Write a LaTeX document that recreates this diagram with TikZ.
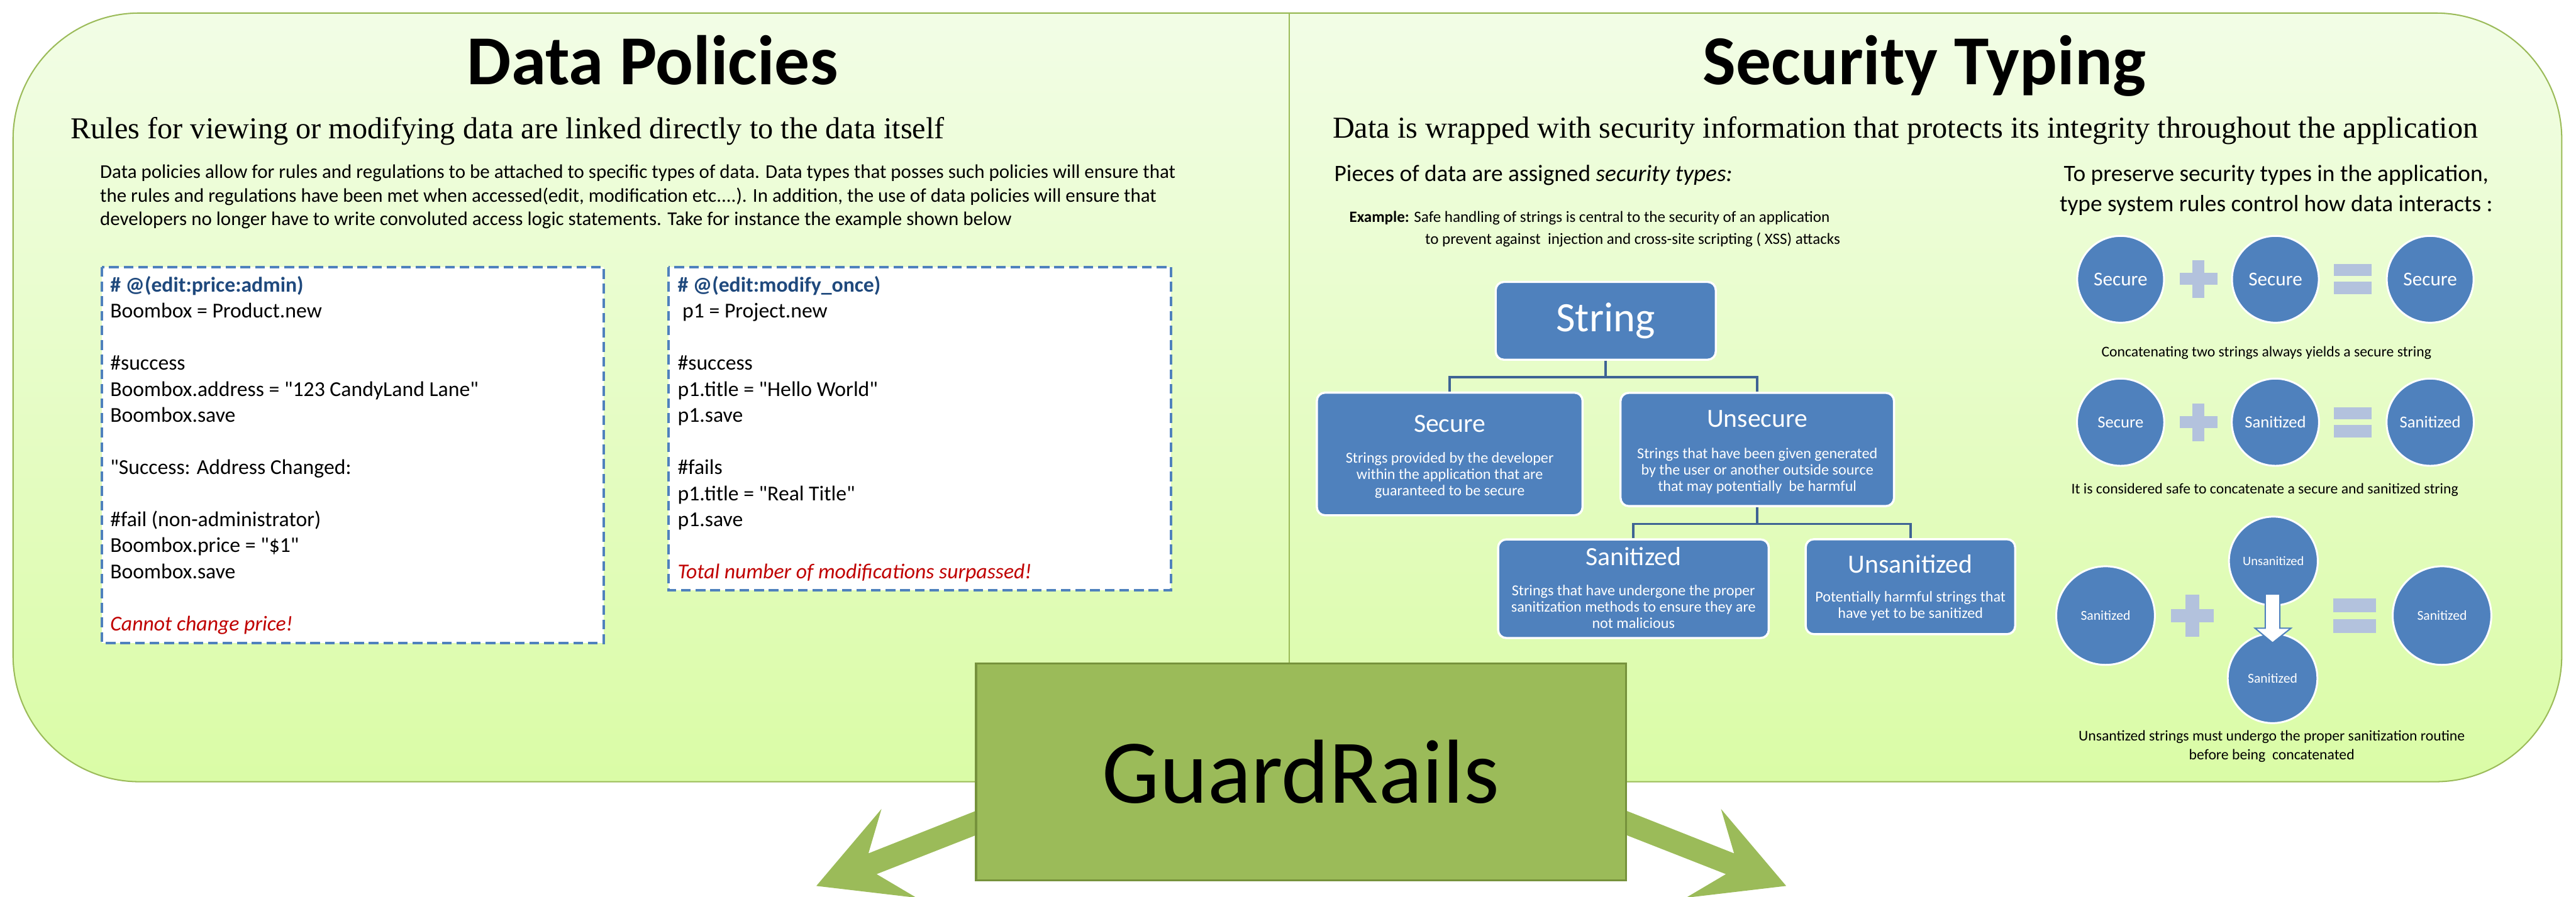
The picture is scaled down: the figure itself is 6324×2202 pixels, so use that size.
\documentclass[tikz,border=0pt]{standalone}
\usepackage{fontspec}
\setmainfont{Carlito}[Ligatures=TeXOff]
\newfontfamily\timesfont{Liberation Serif}
\usetikzlibrary{calc}

\definecolor{panelline}{RGB}{155,187,89}
\definecolor{paneltop}{RGB}{242,253,230}
\definecolor{panelbot}{RGB}{218,252,166}
\definecolor{railgreen}{RGB}{155,187,89}
\definecolor{raildark}{RGB}{118,146,60}
\definecolor{typeblue}{RGB}{79,129,189}
\definecolor{treeline}{RGB}{62,99,148}
\definecolor{opblue}{RGB}{179,194,221}
\definecolor{codeblue}{RGB}{31,73,125}
\definecolor{failred}{RGB}{192,0,0}

% stacked lines, baseline at the first line
\newcommand{\linesleft}[2]{\vtop{\baselineskip=#1\relax\lineskiplimit=-\maxdimen\halign{##\hfil\cr#2\crcr}}}
\newcommand{\linescentre}[2]{\vtop{\baselineskip=#1\relax\lineskiplimit=-\maxdimen\halign{\hfil##\hfil\cr#2\crcr}}}

% plus and equals signs: (centre)[size]
\def\plussign(#1,#2)[#3]{\fill[opblue] ({#1-#3/2},{#2-0.16*#3}) rectangle ({#1+#3/2},{#2+0.16*#3});
  \fill[opblue] ({#1-0.16*#3},{#2-#3/2}) rectangle ({#1+0.16*#3},{#2+#3/2});}
\def\equalsign(#1,#2)[#3]{\fill[opblue] ({#1-#3/2},{#2-0.40*#3}) rectangle ({#1+#3/2},{#2-0.08*#3});
  \fill[opblue] ({#1-#3/2},{#2+0.08*#3}) rectangle ({#1+#3/2},{#2+0.40*#3});}

\tikzset{
  panel/.style={draw=panelline, line width=0.9pt, rounded corners=3.1cm, top color=paneltop, bottom color=panelbot},
  titletext/.style={inner sep=0, font=\fontsize{49}{59}\selectfont\bfseries},
  subtext/.style={inner sep=0, font=\timesfont\fontsize{21.2}{25}\selectfont},
  bodytext/.style={inner sep=0, font=\fontsize{13.6}{16.4}\selectfont},
  codebox/.style={draw=typeblue, fill=white, line width=1.7pt, dash pattern=on 6.8pt off 3.4pt},
  codetext/.style={inner sep=0, font=\fontsize{14.8}{18.2}\selectfont},
  headtext/.style={inner sep=0, font=\fontsize{16.4}{20}\selectfont},
  smalltext/.style={inner sep=0, font=\fontsize{11}{13}\selectfont},
  ruletext/.style={inner sep=0, font=\fontsize{10.4}{13}\selectfont},
  typebox/.style={draw=white, fill=typeblue, line width=1.5pt, rounded corners=0.2cm},
  typetitle/.style={inner sep=0, text=white, font=\fontsize{18.3}{22}\selectfont},
  typedesc/.style={inner sep=0, text=white, font=\fontsize{10.6}{11.4}\selectfont},
  treelink/.style={draw=treeline, line width=1.6pt},
  typecircle/.style={circle, draw=white, fill=typeblue, line width=1.3pt, inner sep=0, text=white},
  sanarrow/.style={draw=typeblue, fill=white, line width=0.9pt},
  railbox/.style={draw=raildark, fill=railgreen, line width=1.5pt, inner sep=0, font=\fontsize{63.5}{70}\selectfont}
}

\begin{document}
\begin{tikzpicture}[x=0.01cm, y=-0.01cm]
  \useasboundingbox (0,0) rectangle (6324,2202);

  %%%%% PANEL %%%%%
  \draw[panel] (32,32) rectangle (6289,1920);
  \draw[panelline, line width=0.9pt] (3165,32) -- (3165,1920);

  %%%%% DATA POLICIES %%%%%
  \node[titletext, anchor=base] (dptitle) at (1602,207) {Data Policies};
  \node[subtext, anchor=base west] (dpsub) at (173,341) {Rules for viewing or modifying data are linked directly to the data itself};
  \node[bodytext, anchor=base west] (dpbody) at (245,438) {\linesleft{16.4pt}{%
    Data policies allow for rules and regulations to be attached to specific types of data. Data types that posses such policies will ensure that\cr
    the rules and regulations have been met when accessed(edit, modification etc....). In addition, the use of data policies will ensure that\cr
    developers no longer have to write convoluted access logic statements. Take for instance the example shown below}};

  \draw[codebox] (250,656) rectangle (1482,1579);
  \node[codetext, anchor=base west] (pricecode) at (270,717) {\linesleft{18.2pt}{%
    {\bfseries\color{codeblue}\# @(edit:price:admin)}\cr
    Boombox = Product.new\cr
    {}\cr
    \#success\cr
    Boombox.address = "123 CandyLand Lane"\cr
    Boombox.save\cr
    {}\cr
    "Success: Address Changed:\cr
    {}\cr
    \#fail (non-administrator)\cr
    Boombox.price = "\$1"\cr
    Boombox.save\cr
    {}\cr
    {\itshape\color{failred}Cannot change price!}}};

  \draw[codebox] (1641,656) rectangle (2875,1450);
  \node[codetext, anchor=base west] (oncecode) at (1663,717) {\linesleft{18.2pt}{%
    {\bfseries\color{codeblue}\# @(edit:modify\_once)}\cr
    \ p1 = Project.new\cr
    {}\cr
    \#success\cr
    p1.title = "Hello World"\cr
    p1.save\cr
    {}\cr
    \#fails\cr
    p1.title = "Real Title"\cr
    p1.save\cr
    {}\cr
    {\itshape\color{failred}Total number of modifications surpassed!}}};

  %%%%% SECURITY TYPING %%%%%
  \node[titletext, anchor=base] (sttitle) at (4724,208) {Security Typing};
  \node[subtext, anchor=base west] (stsub) at (3271,339) {Data is wrapped with security information that protects its integrity throughout the application};
  \node[headtext, anchor=base west] (pieces) at (3275,446) {Pieces of data are assigned \textit{security types:}};
  \node[smalltext, anchor=base west] (example) at (3312,545) {\textbf{Example:} Safe handling of strings is central to the security of an application};
  \node[smalltext, anchor=base west] (example2) at (3498,600) {to prevent against\ \ injection and cross-site scripting ( XSS) attacks};

  % type tree
  \node[typebox, minimum width=5.40cm, minimum height=1.91cm, text=white, font=\fontsize{29.2}{34}\selectfont] (string) at (3942,788) {String};
  \node[typebox, minimum width=6.52cm, minimum height=3.01cm] (secure) at (3559,1115) {};
  \node[typebox, minimum width=6.71cm, minimum height=2.78cm] (unsecure) at (4314,1104) {};
  \node[typebox, minimum width=6.64cm, minimum height=2.42cm] (sanitized) at (4010,1446) {};
  \node[typebox, minimum width=5.14cm, minimum height=2.33cm] (unsanitized) at (4690,1441) {};

  \draw[treelink] (string.south) -- ++(0,40) -| (secure.north);
  \draw[treelink] (string.south) -- ++(0,40) -| (unsecure.north);
  \draw[treelink] (unsecure.south) -- ++(0,41) -| (sanitized.north);
  \draw[treelink] (unsecure.south) -- ++(0,41) -| (unsanitized.north);

  \node[typetitle, anchor=base] (securet) at (3559,1062) {Secure};
  \node[typedesc, anchor=base] (secured) at (3559,1137) {\linescentre{11.4pt}{Strings provided by the developer\cr within the application that are\cr guaranteed to be secure}};
  \node[typetitle, anchor=base] (unsecuret) at (4314,1049) {Unsecure};
  \node[typedesc, anchor=base] (unsecured) at (4314,1126) {\linescentre{11.4pt}{Strings that have been given generated\cr by the user or another outside source\cr that may potentially\ \ be harmful}};
  \node[typetitle, anchor=base] (sanitizedt) at (4010,1389) {Sanitized};
  \node[typedesc, anchor=base] (sanitizedd) at (4010,1463) {\linescentre{11.4pt}{Strings that have undergone the proper\cr sanitization methods to ensure they are\cr not malicious}};
  \node[typetitle, anchor=base] (unsanitizedt) at (4690,1407) {Unsanitized};
  \node[typedesc, anchor=base] (unsanitizedd) at (4690,1478) {\linescentre{11.4pt}{Potentially harmful strings that\cr have yet to be sanitized}};

  % type rules
  \node[headtext, anchor=base] (rulehead) at (5588,446) {\linescentre{20.8pt}{To preserve security types in the application,\cr type system rules control how data interacts :}};

  \node[typecircle, minimum size=2.13cm, font=\fontsize{13.7}{16}\selectfont] (ra) at (5206,686) {Secure};
  \node[typecircle, minimum size=2.13cm, font=\fontsize{13.7}{16}\selectfont] (rb) at (5586,686) {Secure};
  \node[typecircle, minimum size=2.13cm, font=\fontsize{13.7}{16}\selectfont] (rc) at (5966,686) {Secure};
  \plussign(5397,685)[93]
  \equalsign(5776,685)[93]
  \node[ruletext, anchor=base] (ruleone) at (5564,876) {Concatenating two strings always yields a secure string};

  \node[typecircle, minimum size=2.14cm, font=\fontsize{11.7}{14}\selectfont] (sa) at (5206,1037) {Secure};
  \node[typecircle, minimum size=2.14cm, font=\fontsize{11.7}{14}\selectfont] (sb) at (5586,1037) {Sanitized};
  \node[typecircle, minimum size=2.14cm, font=\fontsize{11.7}{14}\selectfont] (sc) at (5966,1037) {Sanitized};
  \plussign(5397,1037)[93]
  \equalsign(5776,1037)[93]
  \node[ruletext, anchor=base] (ruletwo) at (5560,1213) {It is considered safe to concatenate a secure and sanitized string};

  \node[typecircle, minimum size=2.42cm, font=\fontsize{9.5}{12}\selectfont] (ta) at (5169,1512) {Sanitized};
  \node[typecircle, minimum size=2.18cm, font=\fontsize{9}{12}\selectfont] (tu) at (5581,1378) {Unsanitized};
  \node[typecircle, minimum size=2.20cm, font=\fontsize{9.5}{12}\selectfont] (ts) at (5579,1666) {Sanitized};
  \node[typecircle, minimum size=2.42cm, font=\fontsize{9.5}{12}\selectfont] (tc) at (5995,1512) {Sanitized};
  \plussign(5382,1512)[104]
  \equalsign(5781,1512)[105]
  \draw[sanarrow] (5561,1459) -- (5597,1459) -- (5597,1543) -- (5624,1543) -- (5579,1579) -- (5536,1543) -- (5561,1543) -- cycle;
  \node[ruletext, anchor=base] (rulethree) at (5577,1820) {\linescentre{13.1pt}{Unsantized strings must undergo the proper sanitization routine\cr before being\ \ concatenated}};

  %%%%% GUARDRAILS %%%%%
  \fill[railgreen] (2526,1940) -- (2132,2096) -- (2164,1987) -- (2004,2176) -- (2250,2205) -- (2152,2147) -- (2547,1992) -- cycle;
  \fill[railgreen] (3863,1940) -- (4257,2096) -- (4225,1987) -- (4385,2176) -- (4139,2205) -- (4237,2147) -- (3842,1992) -- cycle;
  \node[railbox, minimum width=15.95cm, minimum height=5.32cm] (rails) at (3194,1896) {GuardRails};
\end{tikzpicture}
\end{document}
